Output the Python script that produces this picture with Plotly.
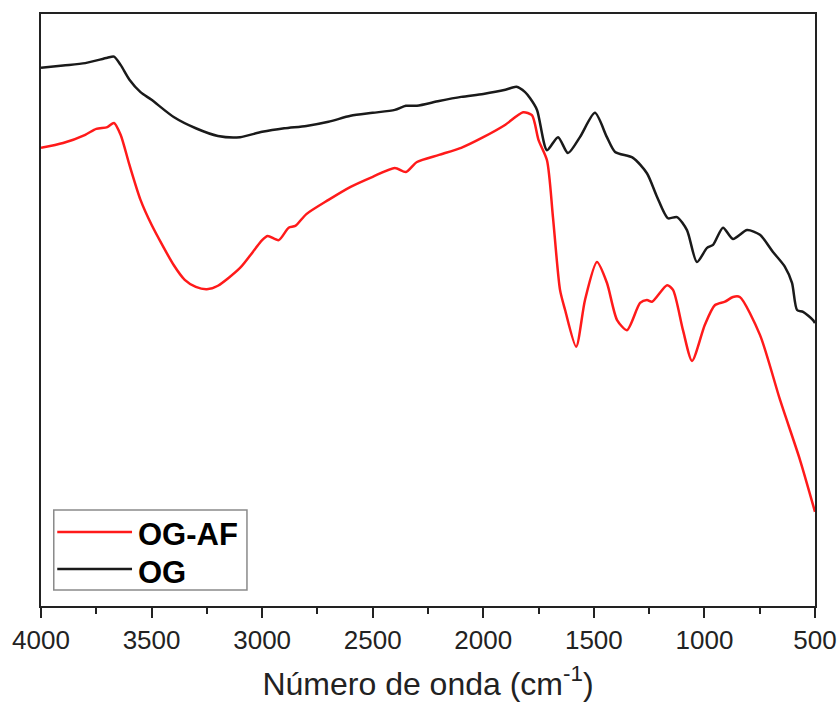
import plotly.graph_objects as go

# OG (black)
og_wn = [4000, 3900, 3800, 3700, 3670, 3640, 3600, 3550, 3500, 3400, 3300, 3200, 3100,
         3000, 2900, 2800, 2700, 2600, 2500, 2400, 2350, 2300, 2200, 2100, 2000, 1900,
         1850, 1811, 1789, 1757, 1712, 1662, 1617, 1563, 1495, 1441, 1404, 1323, 1260,
         1214, 1165, 1124, 1079, 1034, 988, 961, 916, 871, 807, 749, 690, 636, 604, 581,
         554, 509, 500]
og_t = [90.9, 91.3, 91.7, 92.6, 92.8, 91.4, 88.9, 86.8, 85.5, 82.6, 80.7, 79.4, 79.2,
        80.1, 80.7, 81.1, 81.8, 82.8, 83.3, 83.8, 84.5, 84.5, 85.3, 86.0, 86.5, 87.2,
        87.7, 86.8, 85.8, 83.8, 77.0, 79.2, 76.5, 79.2, 83.3, 79.2, 76.7, 75.7, 73.1,
        69.1, 65.5, 65.7, 63.5, 58.1, 60.5, 61.0, 63.9, 62.0, 63.5, 62.7, 59.8, 57.3,
        54.6, 50.0, 49.7, 48.3, 47.8]

# OG-AF (red)
ogaf_wn = [4000, 3900, 3800, 3750, 3700, 3670, 3640, 3600, 3550, 3500, 3400, 3350, 3300,
           3250, 3200, 3100, 3000, 2975, 2925, 2880, 2850, 2800, 2700, 2600, 2500, 2400,
           2350, 2300, 2200, 2100, 2000, 1900, 1820, 1780, 1750, 1712, 1685, 1653, 1630,
           1580, 1540, 1486, 1441, 1395, 1350, 1291, 1260, 1237, 1169, 1142, 1097, 1056,
           998, 953, 907, 871, 840, 749, 658, 568, 500]
ogaf_t = [77.4, 78.2, 79.6, 80.6, 80.9, 81.6, 79.6, 74.5, 68.6, 64.4, 57.6, 55.1, 53.9,
          53.5, 54.1, 57.1, 61.8, 62.5, 61.8, 63.9, 64.2, 66.2, 68.6, 70.8, 72.5, 74.0,
          73.3, 75.0, 76.2, 77.4, 79.2, 81.3, 83.4, 82.9, 78.7, 75.3, 65.7, 53.4, 50.0,
          43.8, 51.7, 58.1, 54.6, 48.3, 46.6, 51.2, 51.7, 51.4, 54.2, 53.4, 46.6, 41.4,
          47.5, 50.8, 51.4, 52.2, 52.2, 45.8, 34.8, 24.7, 15.9]

x_ticks = [4000, 3500, 3000, 2500, 2000, 1500, 1000, 500]
legend_names = ["OG-AF", "OG"]
colors = ["#ff1a1a", "#1a1a1a"]

FONT = "Liberation Sans, Arial, sans-serif"

fig = go.Figure()
fig.add_trace(go.Scatter(x=ogaf_wn, y=ogaf_t, mode="lines", name=legend_names[0],
                         line=dict(color=colors[0], width=2.5, shape="spline", smoothing=0.7),
                         showlegend=False))
fig.add_trace(go.Scatter(x=og_wn, y=og_t, mode="lines", name=legend_names[1],
                         line=dict(color=colors[1], width=2.5, shape="spline", smoothing=0.7),
                         showlegend=False))

# Manual legend (paper coordinates)
shapes = [
    dict(type="rect", xref="paper", yref="paper", x0=0.0165, x1=0.2661, y0=0.027, y1=0.1622,
         line=dict(color="#8a8a8a", width=1.5), fillcolor="white", layer="above"),
    dict(type="line", xref="paper", yref="paper", x0=0.021, x1=0.1176, y0=0.125, y1=0.125,
         line=dict(color=colors[0], width=2.5), layer="above"),
    dict(type="line", xref="paper", yref="paper", x0=0.021, x1=0.1176, y0=0.0625, y1=0.0625,
         line=dict(color=colors[1], width=2.5), layer="above"),
]
annotations = [
    dict(xref="paper", yref="paper", x=0.1228, y=0.120, text="<b>%s</b>" % legend_names[0],
         showarrow=False, xanchor="left", yanchor="middle",
         font=dict(family=FONT, size=31, color="#000")),
    dict(xref="paper", yref="paper", x=0.1228, y=0.057, text="<b>%s</b>" % legend_names[1],
         showarrow=False, xanchor="left", yanchor="middle",
         font=dict(family=FONT, size=31, color="#000")),
]

fig.update_layout(
    width=839, height=704,
    margin=dict(l=41, r=24, t=14, b=98),
    paper_bgcolor="white", plot_bgcolor="white",
    shapes=shapes, annotations=annotations,
    xaxis=dict(
        range=[4000, 500], tickvals=x_ticks, ticktext=[str(v) for v in x_ticks],
        automargin=False,
        showgrid=False, zeroline=False,
        showline=True, linecolor="#222", linewidth=2, mirror=True,
        ticks="outside", ticklen=10, tickwidth=2, tickcolor="#222",
        minor=dict(dtick=250, tick0=500, ticks="outside", ticklen=6, tickwidth=2, tickcolor="#222"),
        tickfont=dict(family=FONT, size=26, color="#222"),
        title=dict(text="Número de onda (cm<sup>-1</sup>)", standoff=18,
                   font=dict(family=FONT, size=32, color="#222")),
    ),
    yaxis=dict(
        range=[0, 100], showgrid=False, zeroline=False, showticklabels=False, ticks="",
        automargin=False,
        showline=True, linecolor="#222", linewidth=2, mirror=True,
    ),
)

fig.write_html("out.html")
